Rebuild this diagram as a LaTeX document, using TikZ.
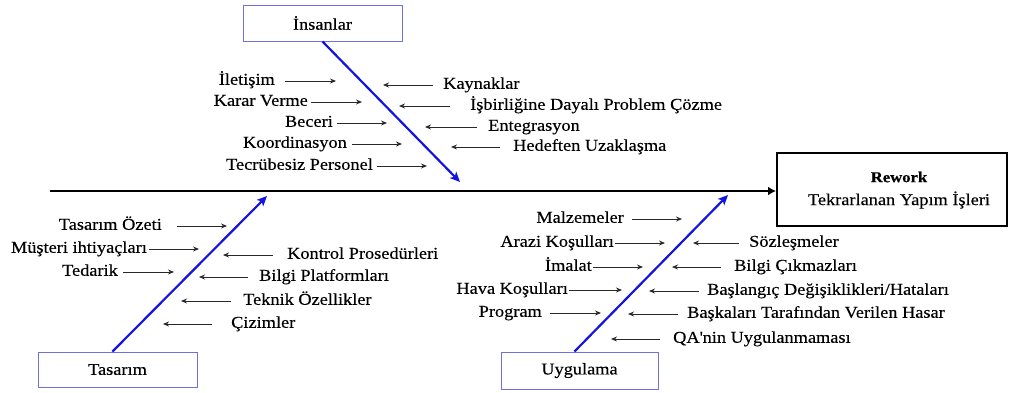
\documentclass[tikz,border=0pt]{standalone}
\usepackage{fontspec}
\setmainfont{Liberation Serif}[FakeStretch=1.11,FakeBold=0.3]
\usetikzlibrary{arrows.meta}
\definecolor{catblue}{RGB}{112,112,224}
\definecolor{boneblue}{RGB}{20,20,225}
\definecolor{arrowgray}{RGB}{40,40,40}
\begin{document}
\begin{tikzpicture}[x=1pt,y=-1pt,
  txt/.style={font=\fontsize{16.5}{18}\selectfont},
  lbl/.style={txt,inner sep=0pt,text height=11pt,text depth=3.5pt},
  catbox/.style={txt,draw=catblue,line width=1pt,fill=white,inner sep=0pt},
  sarr/.style={draw=arrowgray,line width=0.9pt,-{Stealth[length=6pt,width=5pt]}},
  bigarr/.style={draw=boneblue,line width=2.2pt,-{Stealth[length=10pt,width=9pt,inset=2.5pt]}},
  spine/.style={draw=black,line width=2.6pt,-{Latex[length=8pt,width=9pt]}}
]
\useasboundingbox (0,0) rectangle (1009,392);

% category boxes
\node[catbox,minimum width=159pt,minimum height=36pt] (ins) at (322.5,23) {İnsanlar};
\node[catbox,minimum width=159pt,minimum height=35pt] (tas) at (117.5,369.5) {Tasarım};
\node[catbox,minimum width=157pt,minimum height=37pt] (uyg) at (579.5,370.5) {Uygulama};

% effect box
\node[draw=black,line width=2pt,minimum width=230pt,minimum height=73pt,inner sep=0pt] (rw) at (892,189.5) {};
\node[font=\fontsize{15}{17}\selectfont\bfseries,inner sep=0pt] (rwt) at (899,177) {Rework};
\node[txt,inner sep=0pt] (rws) at (899,200) {Tekrarlanan Yapım İşleri};

% spine
\coordinate (sp0) at (50,191);
\draw[spine] (sp0) -- (sp0 -| rw.west);

% bones
\coordinate (insTip) at (460,182);
\coordinate (tasTip) at (267,196);
\coordinate (uygTip) at (728,195);
\draw[bigarr] (ins.south) -- (insTip);
\draw[bigarr] ([xshift=-5pt]tas.north) -- (tasTip);
\draw[bigarr] ([xshift=-5pt]uyg.north) -- (uygTip);

% ---- İnsanlar, left side
\node[lbl,anchor=east] (a1) at (275,81) {İletişim};
\node[lbl,anchor=east] (a2) at (308,102) {Karar Verme};
\node[lbl,anchor=east] (a3) at (333,123) {Beceri};
\node[lbl,anchor=east] (a4) at (347,144) {Koordinasyon};
\node[lbl,anchor=east] (a5) at (373,166) {Tecrübesiz Personel};
\coordinate (a1t) at (336,81);
\coordinate (a2t) at (362,102);
\coordinate (a3t) at (387,123);
\coordinate (a4t) at (402,144);
\coordinate (a5t) at (427,166);
\draw[sarr] ([xshift=10pt]a1.east) -- (a1t);
\draw[sarr] ([xshift=3pt]a2.east) -- (a2t);
\draw[sarr] ([xshift=4pt]a3.east) -- (a3t);
\draw[sarr] ([xshift=5pt]a4.east) -- (a4t);
\draw[sarr] ([xshift=4pt]a5.east) -- (a5t);

% ---- İnsanlar, right side
\node[lbl,anchor=west] (b1) at (443,85) {Kaynaklar};
\node[lbl,anchor=west] (b2) at (470,106) {İşbirliğine Dayalı Problem Çözme};
\node[lbl,anchor=west] (b3) at (488,127) {Entegrasyon};
\node[lbl,anchor=west] (b4) at (513,147) {Hedeften Uzaklaşma};
\coordinate (b1t) at (383,85);
\coordinate (b2t) at (399,106);
\coordinate (b3t) at (425,127);
\coordinate (b4t) at (451,147);
\draw[sarr] ([xshift=-10pt]b1.west) -- (b1t);
\draw[sarr] ([xshift=-20pt]b2.west) -- (b2t);
\draw[sarr] ([xshift=-11pt]b3.west) -- (b3t);
\draw[sarr] ([xshift=-13pt]b4.west) -- (b4t);

% ---- Tasarım, left side
\node[lbl,anchor=east] (c1) at (162,226) {Tasarım Özeti};
\node[lbl,anchor=east] (c2) at (147,249) {Müşteri ihtiyaçları};
\node[lbl,anchor=east] (c3) at (118,272) {Tedarik};
\coordinate (c1t) at (227,226);
\coordinate (c2t) at (199,249);
\coordinate (c3t) at (174,272);
\draw[sarr] ([xshift=15pt]c1.east) -- (c1t);
\draw[sarr] ([xshift=2pt]c2.east) -- (c2t);
\draw[sarr] ([xshift=5pt]c3.east) -- (c3t);

% ---- Tasarım, right side
\node[lbl,anchor=west] (d1) at (287,255) {Kontrol Prosedürleri};
\node[lbl,anchor=west] (d2) at (259,277) {Bilgi Platformları};
\node[lbl,anchor=west] (d3) at (243,301) {Teknik Özellikler};
\node[lbl,anchor=west] (d4) at (231,324) {Çizimler};
\coordinate (d1t) at (223,255);
\coordinate (d2t) at (199,277);
\coordinate (d3t) at (181,301);
\coordinate (d4t) at (163,324);
\draw[sarr] ([xshift=-14pt]d1.west) -- (d1t);
\draw[sarr] ([xshift=-11pt]d2.west) -- (d2t);
\draw[sarr] ([xshift=-12pt]d3.west) -- (d3t);
\draw[sarr] ([xshift=-19pt]d4.west) -- (d4t);

% ---- Uygulama, left side
\node[lbl,anchor=east] (e1) at (624,219) {Malzemeler};
\node[lbl,anchor=east] (e2) at (614,243) {Arazi Koşulları};
\node[lbl,anchor=east] (e3) at (592,267) {İmalat};
\node[lbl,anchor=east] (e4) at (568,290) {Hava Koşulları};
\node[lbl,anchor=east] (e5) at (542,313) {Program};
\coordinate (e1t) at (682,219);
\coordinate (e2t) at (665,243);
\coordinate (e3t) at (643,267);
\coordinate (e4t) at (622,290);
\coordinate (e5t) at (601,313);
\draw[sarr] ([xshift=8pt]e1.east) -- (e1t);
\draw[sarr] ([xshift=1pt]e2.east) -- (e2t);
\draw[sarr] ([xshift=1pt]e3.east) -- (e3t);
\draw[sarr] ([xshift=1pt]e4.east) -- (e4t);
\draw[sarr] ([xshift=8pt]e5.east) -- (e5t);

% ---- Uygulama, right side
\node[lbl,anchor=west] (f1) at (749,243) {Sözleşmeler};
\node[lbl,anchor=west] (f2) at (734,267) {Bilgi Çıkmazları};
\node[lbl,anchor=west] (f3) at (707,291) {Başlangıç Değişiklikleri/Hataları};
\node[lbl,anchor=west] (f4) at (687,314) {Başkaları Tarafından Verilen Hasar};
\node[lbl,anchor=west] (f5) at (673,339) {QA\textquotesingle nin Uygulanmaması};
\coordinate (f1t) at (693,243);
\coordinate (f2t) at (672,267);
\coordinate (f3t) at (649,291);
\coordinate (f4t) at (628,314);
\coordinate (f5t) at (611,339);
\draw[sarr] ([xshift=-10pt]f1.west) -- (f1t);
\draw[sarr] ([xshift=-13pt]f2.west) -- (f2t);
\draw[sarr] ([xshift=-8pt]f3.west) -- (f3t);
\draw[sarr] ([xshift=-9pt]f4.west) -- (f4t);
\draw[sarr] ([xshift=-13pt]f5.west) -- (f5t);
\end{tikzpicture}
\end{document}
